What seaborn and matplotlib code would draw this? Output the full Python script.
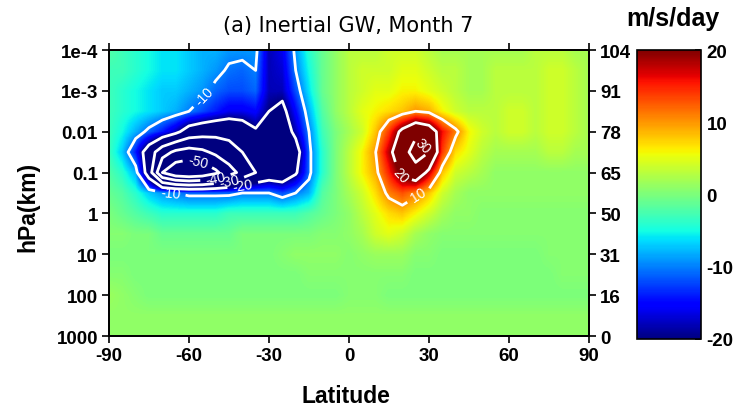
import numpy as np
import matplotlib
matplotlib.use("Agg")
import matplotlib.pyplot as plt
import seaborn as sns

# ---------------- data ----------------
LATITUDES = list(range(-90, 95, 5))
LOG_PRESSURE = [-4.0, -3.5, -3.0, -2.5, -2.0, -1.5, -1.0, -0.5, 0.0, 0.5, 1.0, 1.5, 2.0, 2.5, 3.0]
PRESSURE_TICKS = [-4, -3, -2, -1, 0, 1, 2, 3]
PRESSURE_TICK_LABELS = ["1e-4", "1e-3", "0.01", "0.1", "1", "10", "100", "1000"]
HEIGHT_TICK_LABELS = ["104", "91", "78", "65", "50", "31", "16", "0"]
LAT_TICKS = [-90, -60, -30, 0, 30, 60, 90]
CBAR_TICKS = [-20, -10, 0, 10, 20]
CONTOUR_LEVELS = [-50, -40, -30, -20, -10, 10, 20, 30]

# rows of the field (m/s/day), one per log10(p) level, columns = LATITUDES
p_m40 = [-2, -3, -4, -5, -6, -6, -7, -8, -8, -9, -9, -9, -18, -16, -9, -4, -1, 1, 3, 3, 3, 4, 4, 4, 3, 2, 2, 2, 2, 2, 2, 2, 3, 3, 3, 2, 2]
p_m35 = [-3, -3, -4, -5, -6, -6, -7, -8, -9, -10.5, -11, -10, -18, -17, -10, -5, -1, 1, 3, 4, 4, 4, 5, 5, 4, 3, 3, 2, 2, 3, 3, 3, 3, 4, 4, 3, 2]
p_m30 = [-3, -4, -5, -6, -7, -7, -8, -9, -11, -12, -12, -11, -18, -18, -12, -6, -1, 1, 3, 4, 5, 5, 6, 6, 5, 4, 3, 2, 2, 3, 3, 3, 3, 4, 4, 3, 2]
p_m25 = [-3, -4, -5, -6, -7, -8, -10, -12, -14, -16, -16, -15, -20, -22, -15, -8, -2, 1, 3, 5, 6, 7, 8, 10, 9, 6, 4, 3, 3, 3, 4, 4, 3, 4, 4, 3, 2]
p_m20 = [-3, -5, -8, -11, -14, -18, -24, -26, -27, -27, -25, -21, -22, -25, -18, -10, -3, 0, 2, 4, 8, 14, 22, 28, 25, 16, 11, 6, 4, 3, 4, 4, 3, 4, 4, 3, 2]
p_m15 = [-3, -7, -14, -25, -36, -42, -44, -42, -38, -34, -30, -28, -27, -30, -24, -11, -4, 0, 3, 6, 10, 18, 26, 34, 30, 14, 7, 5, 3, 2, 2, 2, 2, 3, 3, 2, 2]
p_m10 = [-2, -4, -8, -25, -50, -58, -60, -58, -52, -44, -37, -30, -26, -27, -21, -11, -4, 0, 3, 6, 9, 15, 22, 26, 18, 8, 4, 3, 2, 1, 1, 1, 1, 1, 1, 1, 1]
p_m05 = [-1, -2, -4, -7, -9, -10, -11, -11, -11, -11, -10, -10, -10, -12, -10, -8, -2, 0, 2, 4, 7, 11, 13, 11, 8, 4, 2, 1, 1, 1, 1, 1, 1, 1, 1, 1, 1]
p_p00 = [0, -1, -2, -3, -4, -4, -4, -4, -4, -3, -3, -3, -3, -3, -3, -2, -1, 0, 1, 3, 5, 7, 8, 6, 4, 2, 1, 1, 0.5, 0.5, 0.5, 0.5, 0.5, 0.5, 0.5, 0.5, 0.5]
p_p05 = [0.5, 0.5, 0, 0, -1, -1, -1, -1, -1, -1, 0, 0, 0, 0, 0, 0, 0.5, 0.5, 1, 2, 4, 5, 4, 2, 1, 0.5, 0.5, 0.5, 0.5, 0.5, 0.5, 0.5, 0.5, 0.5, 0.5, 0.5, 0.5]
p_p10 = [0, 0, 0, 0, 0, 0, 0, 0, 0, 0, 0, 0, 0, 0.5, 1, 1, 1, 1, 0.5, 1, 1.5, 1.5, 1.5, 0.5, 0.5, 0, 0, 0, 0, 0, 0, 0, 0, 0.5, 0.5, 0.5, 0.5]
p_p15 = [0.5, 0.5, 0, 0, 0, 0, 0, 0, 0, 0, 0, 0, 0, 0, 0, 0.5, 0.5, 0.5, 0.5, 0.5, 0.5, 0.5, 0.5, 0, 0, 0, 0, 0, 0, 0, 0, 0, 0, 0, 0.5, 0.5, 0.5]
p_p20 = [1.5, 1, 0.5, 0, 0, 0, 0, 0, 0, 0, 0, 0, 0, 0, 0, 0, 0, 0, 0.5, 0.5, 0.5, 0, 0, 0, 0, 0, 0, 0, 0, 0, 0, 0, 0, 0, 0, 0, 0]
p_p25 = [1] * 37
p_p30 = [1] * 37

FIELD = np.array([p_m40, p_m35, p_m30, p_m25, p_m20, p_m15, p_m10, p_m05,
                  p_p00, p_p05, p_p10, p_p15, p_p20, p_p25, p_p30], dtype=float)

# ---------------- style ----------------
sns.set_theme(style="ticks")
plt.rcParams["font.family"] = ["Liberation Sans", "DejaVu Sans"]
plt.rcParams["axes.unicode_minus"] = False
plt.rcParams["text.color"] = "black"
plt.rcParams["axes.labelcolor"] = "black"
plt.rcParams["xtick.color"] = "black"
plt.rcParams["ytick.color"] = "black"
plt.rcParams["axes.edgecolor"] = "black"
plt.rcParams["contour.negative_linestyle"] = "solid"

fig = plt.figure(figsize=(7.37, 4.10), dpi=100)
fig.patch.set_facecolor("white")
ax = fig.add_axes([109 / 737, 73 / 410, 480 / 737, 286 / 410])

cmap = matplotlib.colormaps["jet"]
dlat = (LATITUDES[1] - LATITUDES[0]) / 2
dlp = (LOG_PRESSURE[1] - LOG_PRESSURE[0]) / 2
im = ax.imshow(FIELD, cmap=cmap, vmin=-20, vmax=20, origin="upper", aspect="auto",
               extent=[LATITUDES[0] - dlat, LATITUDES[-1] + dlat,
                       LOG_PRESSURE[-1] + dlp, LOG_PRESSURE[0] - dlp],
               interpolation="bilinear", interpolation_stage="data")

cs = ax.contour(LATITUDES, LOG_PRESSURE, FIELD, levels=CONTOUR_LEVELS,
                colors="white", linewidths=2.0, linestyles="solid")
labels = ax.clabel(cs, fmt="%d", fontsize=10, inline=True, colors="white",
                   manual=[(-53, -2.8), (-67, -0.5), (-57, -1.15), (-50, -0.85),
                           (-45, -0.8), (-40, -0.75), (27, -1.6), (20, -1.0), (26, -0.45)])

ax.set_xlim(-90, 90)
ax.set_ylim(3, -4)
ax.set_xticks(LAT_TICKS)
ax.set_xticklabels([str(v) for v in LAT_TICKS])
ax.set_yticks(PRESSURE_TICKS)
ax.set_yticklabels(PRESSURE_TICK_LABELS)
ax.tick_params(axis="both", direction="out", length=5, width=1.2, colors="black",
               top=True, labeltop=False, pad=3)
for t in ax.get_xticklabels() + ax.get_yticklabels():
    t.set_fontweight("bold")
    t.set_fontsize(13.5)
for s in ax.spines.values():
    s.set_linewidth(1.3)
    s.set_color("black")

ax2 = ax.twinx()
ax2.set_ylim(3, -4)
ax2.set_yticks(PRESSURE_TICKS)
ax2.set_yticklabels(HEIGHT_TICK_LABELS)
ax2.tick_params(axis="y", direction="out", length=5, width=1.2, pad=3, colors="black")
for t in ax2.get_yticklabels():
    t.set_fontweight("bold")
    t.set_fontsize(13.5)
for s in ax2.spines.values():
    s.set_linewidth(1.3)
    s.set_color("black")

# colorbar
cax = fig.add_axes([637 / 737, 70 / 410, 64 / 737, 289 / 410])
cb = fig.colorbar(im, cax=cax, ticks=CBAR_TICKS)
cb.outline.set_linewidth(1.2)
cb.outline.set_edgecolor("black")
cb.ax.tick_params(direction="in", length=4, width=1.2, pad=4, colors="black")
cb.ax.set_yticklabels([str(v) for v in CBAR_TICKS])
for t in cb.ax.get_yticklabels():
    t.set_fontweight("bold")
    t.set_fontsize(13.5)

# texts
fig.text(348 / 737, 1 - 26 / 410, "(a) Inertial GW, Month 7", ha="center", va="center",
         fontsize=15, family=["DejaVu Sans"])
fig.text(673 / 737, 1 - 19 / 410, "m/s/day", ha="center", va="center",
         fontsize=18, fontweight="bold")
fig.text(346 / 737, 1 - 397 / 410, "Latitude", ha="center", va="center",
         fontsize=16.5, fontweight="bold")
fig.text(28 / 737, 1 - 207 / 410, "hPa(km)", ha="center", va="center",
         fontsize=16.5, fontweight="bold", rotation=90)

fig.savefig("out.png", dpi=100)
